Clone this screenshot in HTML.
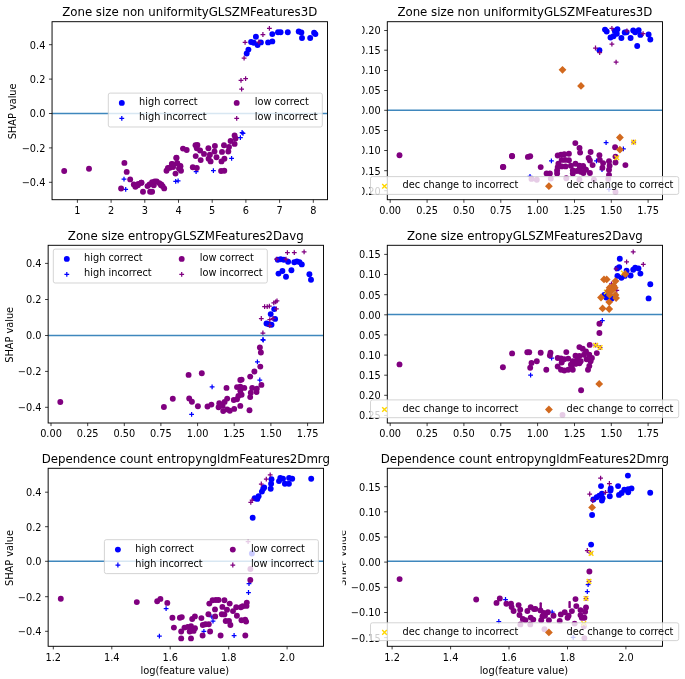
<!DOCTYPE html>
<html><head><meta charset="utf-8"><title>SHAP dependence plots</title>
<style>html,body{margin:0;padding:0;background:#fff}svg{display:block}text{font-family:"DejaVu Sans","Liberation Sans",sans-serif;fill:#000}</style>
</head><body>
<svg width="685" height="679" viewBox="0 0 685 679">
<rect width="685" height="679" fill="#fff"/>
<g id="p1">
<clipPath id="a1"><rect x="52.05" y="21.7" width="275.45" height="178.0"/></clipPath>
<g clip-path="url(#a1)">
<circle cx="246.7" cy="53.5" r="2.95" fill="#0000ff"/>
<circle cx="248.4" cy="49.6" r="2.95" fill="#0000ff"/>
<circle cx="251.1" cy="42.0" r="2.95" fill="#0000ff"/>
<circle cx="253.7" cy="42.8" r="2.95" fill="#0000ff"/>
<circle cx="255.9" cy="36.7" r="2.95" fill="#0000ff"/>
<circle cx="257.6" cy="45.0" r="2.95" fill="#0000ff"/>
<circle cx="260.9" cy="42.4" r="2.95" fill="#0000ff"/>
<circle cx="268.1" cy="42.4" r="2.95" fill="#0000ff"/>
<circle cx="272.3" cy="41.4" r="2.95" fill="#0000ff"/>
<circle cx="272.3" cy="34.1" r="2.95" fill="#0000ff"/>
<circle cx="278.0" cy="32.2" r="2.95" fill="#0000ff"/>
<circle cx="280.6" cy="32.2" r="2.95" fill="#0000ff"/>
<circle cx="287.8" cy="32.2" r="2.95" fill="#0000ff"/>
<circle cx="298.7" cy="31.5" r="2.95" fill="#0000ff"/>
<circle cx="301.4" cy="32.5" r="2.95" fill="#0000ff"/>
<circle cx="302.0" cy="38.0" r="2.95" fill="#0000ff"/>
<circle cx="310.2" cy="38.0" r="2.95" fill="#0000ff"/>
<circle cx="314.1" cy="32.8" r="2.95" fill="#0000ff"/>
<circle cx="315.4" cy="34.1" r="2.95" fill="#0000ff"/>
<path d="M121.6 179.2H126.4M124.0 176.8V181.6" stroke="#0000ff" stroke-width="1.25" fill="none"/>
<path d="M123.3 189.4H128.1M125.7 187.0V191.8" stroke="#0000ff" stroke-width="1.25" fill="none"/>
<path d="M173.3 181.3H178.1M175.7 178.9V183.7" stroke="#0000ff" stroke-width="1.25" fill="none"/>
<path d="M175.7 180.9H180.5M178.1 178.5V183.3" stroke="#0000ff" stroke-width="1.25" fill="none"/>
<path d="M211.0 170.6H215.8M213.4 168.2V173.0" stroke="#0000ff" stroke-width="1.25" fill="none"/>
<path d="M193.7 171.7H198.5M196.1 169.3V174.1" stroke="#0000ff" stroke-width="1.25" fill="none"/>
<path d="M239.7 132.5H244.5M242.1 130.1V134.9" stroke="#0000ff" stroke-width="1.25" fill="none"/>
<path d="M240.6 133.3H245.4M243.0 130.9V135.7" stroke="#0000ff" stroke-width="1.25" fill="none"/>
<path d="M238.0 137.7H242.8M240.4 135.3V140.1" stroke="#0000ff" stroke-width="1.25" fill="none"/>
<path d="M229.2 158.4H234.0M231.6 156.0V160.8" stroke="#0000ff" stroke-width="1.25" fill="none"/>
<circle cx="64.2" cy="171.0" r="2.95" fill="#800080"/>
<circle cx="89.0" cy="168.7" r="2.95" fill="#800080"/>
<circle cx="124.4" cy="162.9" r="2.95" fill="#800080"/>
<circle cx="126.7" cy="171.9" r="2.95" fill="#800080"/>
<circle cx="130.2" cy="179.4" r="2.95" fill="#800080"/>
<circle cx="121.1" cy="188.5" r="2.95" fill="#800080"/>
<circle cx="133.8" cy="184.4" r="2.95" fill="#800080"/>
<circle cx="135.4" cy="186.8" r="2.95" fill="#800080"/>
<circle cx="137.8" cy="185.2" r="2.95" fill="#800080"/>
<circle cx="141.5" cy="182.8" r="2.95" fill="#800080"/>
<circle cx="143.0" cy="191.8" r="2.95" fill="#800080"/>
<circle cx="147.5" cy="186.1" r="2.95" fill="#800080"/>
<circle cx="149.5" cy="184.4" r="2.95" fill="#800080"/>
<circle cx="152.1" cy="182.2" r="2.95" fill="#800080"/>
<circle cx="154.7" cy="181.5" r="2.95" fill="#800080"/>
<circle cx="156.7" cy="181.5" r="2.95" fill="#800080"/>
<circle cx="159.3" cy="183.1" r="2.95" fill="#800080"/>
<circle cx="161.3" cy="184.4" r="2.95" fill="#800080"/>
<circle cx="162.6" cy="186.1" r="2.95" fill="#800080"/>
<circle cx="164.2" cy="188.4" r="2.95" fill="#800080"/>
<circle cx="150.1" cy="191.8" r="2.95" fill="#800080"/>
<circle cx="152.1" cy="191.8" r="2.95" fill="#800080"/>
<circle cx="138.3" cy="183.9" r="2.95" fill="#800080"/>
<circle cx="141.3" cy="182.8" r="2.95" fill="#800080"/>
<circle cx="221.1" cy="171.0" r="2.95" fill="#800080"/>
<circle cx="224.3" cy="170.8" r="2.95" fill="#800080"/>
<circle cx="183.0" cy="148.6" r="2.95" fill="#800080"/>
<circle cx="186.7" cy="150.0" r="2.95" fill="#800080"/>
<circle cx="195.5" cy="145.2" r="2.95" fill="#800080"/>
<circle cx="197.4" cy="145.0" r="2.95" fill="#800080"/>
<circle cx="196.8" cy="148.2" r="2.95" fill="#800080"/>
<circle cx="200.1" cy="150.5" r="2.95" fill="#800080"/>
<circle cx="204.0" cy="153.9" r="2.95" fill="#800080"/>
<circle cx="195.7" cy="156.1" r="2.95" fill="#800080"/>
<circle cx="200.7" cy="160.1" r="2.95" fill="#800080"/>
<circle cx="208.4" cy="148.2" r="2.95" fill="#800080"/>
<circle cx="209.9" cy="154.8" r="2.95" fill="#800080"/>
<circle cx="208.6" cy="158.8" r="2.95" fill="#800080"/>
<circle cx="210.6" cy="161.4" r="2.95" fill="#800080"/>
<circle cx="214.9" cy="146.0" r="2.95" fill="#800080"/>
<circle cx="214.5" cy="151.5" r="2.95" fill="#800080"/>
<circle cx="216.5" cy="157.2" r="2.95" fill="#800080"/>
<circle cx="224.0" cy="145.2" r="2.95" fill="#800080"/>
<circle cx="222.0" cy="151.9" r="2.95" fill="#800080"/>
<circle cx="224.4" cy="158.8" r="2.95" fill="#800080"/>
<circle cx="221.5" cy="161.4" r="2.95" fill="#800080"/>
<circle cx="230.6" cy="141.0" r="2.95" fill="#800080"/>
<circle cx="229.0" cy="146.9" r="2.95" fill="#800080"/>
<circle cx="228.3" cy="151.5" r="2.95" fill="#800080"/>
<circle cx="234.6" cy="135.5" r="2.95" fill="#800080"/>
<circle cx="235.5" cy="138.4" r="2.95" fill="#800080"/>
<circle cx="234.6" cy="143.9" r="2.95" fill="#800080"/>
<circle cx="176.4" cy="157.8" r="2.95" fill="#800080"/>
<circle cx="171.8" cy="164.0" r="2.95" fill="#800080"/>
<circle cx="177.1" cy="163.4" r="2.95" fill="#800080"/>
<circle cx="167.9" cy="168.0" r="2.95" fill="#800080"/>
<circle cx="180.4" cy="166.0" r="2.95" fill="#800080"/>
<circle cx="192.8" cy="167.3" r="2.95" fill="#800080"/>
<circle cx="196.8" cy="168.0" r="2.95" fill="#800080"/>
<circle cx="176.4" cy="157.9" r="2.95" fill="#800080"/>
<circle cx="177.3" cy="163.1" r="2.95" fill="#800080"/>
<circle cx="172.4" cy="164.2" r="2.95" fill="#800080"/>
<circle cx="180.3" cy="166.4" r="2.95" fill="#800080"/>
<circle cx="169.8" cy="167.7" r="2.95" fill="#800080"/>
<circle cx="166.5" cy="170.8" r="2.95" fill="#800080"/>
<circle cx="181.0" cy="170.8" r="2.95" fill="#800080"/>
<circle cx="175.5" cy="173.6" r="2.95" fill="#800080"/>
<circle cx="173.1" cy="167.1" r="2.95" fill="#800080"/>
<circle cx="179.0" cy="168.4" r="2.95" fill="#800080"/>
<circle cx="153.8" cy="185.3" r="2.95" fill="#800080"/>
<circle cx="161.0" cy="185.3" r="2.95" fill="#800080"/>
<path d="M241.7 58.1H246.5M244.1 55.7V60.5" stroke="#800080" stroke-width="1.25" fill="none"/>
<path d="M242.7 42.4H247.5M245.1 40.0V44.8" stroke="#800080" stroke-width="1.25" fill="none"/>
<path d="M256.5 42.0H261.3M258.9 39.6V44.4" stroke="#800080" stroke-width="1.25" fill="none"/>
<path d="M260.5 34.5H265.3M262.9 32.1V36.9" stroke="#800080" stroke-width="1.25" fill="none"/>
<path d="M267.0 28.3H271.8M269.4 25.9V30.7" stroke="#800080" stroke-width="1.25" fill="none"/>
<path d="M238.6 80.4H243.4M241.0 78.0V82.8" stroke="#800080" stroke-width="1.25" fill="none"/>
<path d="M243.2 78.6H248.0M245.6 76.2V81.0" stroke="#800080" stroke-width="1.25" fill="none"/>
<path d="M239.2 89.2H244.0M241.6 86.8V91.6" stroke="#800080" stroke-width="1.25" fill="none"/>
<path d="M52.05 113.5H327.5" stroke="#3f87bd" stroke-width="1.5" fill="none"/>
</g>
<rect x="52.05" y="21.7" width="275.45" height="178.0" fill="none" stroke="#000" stroke-width="0.95"/>
<path d="M77.4 199.7v3.1M111.1 199.7v3.1M144.8 199.7v3.1M178.5 199.7v3.1M212.2 199.7v3.1M245.9 199.7v3.1M279.6 199.7v3.1M313.3 199.7v3.1M52.05 44.7h-3.1M52.05 79.1h-3.1M52.05 113.5h-3.1M52.05 147.9h-3.1M52.05 182.3h-3.1" stroke="#000" stroke-width="0.75" fill="none"/>
<text x="77.4" y="213.9" text-anchor="middle" font-size="9.77">1</text>
<text x="111.1" y="213.9" text-anchor="middle" font-size="9.77">2</text>
<text x="144.8" y="213.9" text-anchor="middle" font-size="9.77">3</text>
<text x="178.5" y="213.9" text-anchor="middle" font-size="9.77">4</text>
<text x="212.2" y="213.9" text-anchor="middle" font-size="9.77">5</text>
<text x="245.9" y="213.9" text-anchor="middle" font-size="9.77">6</text>
<text x="279.6" y="213.9" text-anchor="middle" font-size="9.77">7</text>
<text x="313.3" y="213.9" text-anchor="middle" font-size="9.77">8</text>
<text x="45.4" y="48.6" text-anchor="end" font-size="9.77">0.4</text>
<text x="45.4" y="83.0" text-anchor="end" font-size="9.77">0.2</text>
<text x="45.4" y="117.4" text-anchor="end" font-size="9.77">0.0</text>
<text x="45.4" y="151.8" text-anchor="end" font-size="9.77">−0.2</text>
<text x="45.4" y="186.2" text-anchor="end" font-size="9.77">−0.4</text>
<text x="189.7" y="16.1" text-anchor="middle" font-size="11.78">Zone size non uniformityGLSZMFeatures3D</text>
<text transform="translate(15.5,111.39999999999999) rotate(-90)" text-anchor="middle" font-size="9.77">SHAP value</text>
<rect x="108.3" y="93.1" width="214.0" height="33.9" rx="1.9" fill="#fff" fill-opacity="0.8" stroke="#ccc" stroke-width="0.85"/><circle cx="121.8" cy="102.9" r="2.95" fill="#0000ff"/><path d="M119.4 118.4H124.2M121.8 116.0V120.8" stroke="#0000ff" stroke-width="1.25" fill="none"/><circle cx="236.7" cy="102.9" r="2.95" fill="#800080"/><path d="M234.3 118.4H239.1M236.7 116.0V120.8" stroke="#800080" stroke-width="1.25" fill="none"/><text x="139.1" y="104.9" font-size="9.77">high correct</text><text x="139.1" y="120.1" font-size="9.77">high incorrect</text><text x="254.8" y="104.9" font-size="9.77">low correct</text><text x="254.8" y="120.1" font-size="9.77">low incorrect</text>
</g>
<g id="p2">
<clipPath id="c2"><rect x="362.1" y="-0.3000000000000007" width="322.9" height="238.0"/></clipPath>
<g clip-path="url(#c2)">
<clipPath id="a2"><rect x="387.3" y="21.7" width="275.2" height="178.0"/></clipPath>
<g clip-path="url(#a2)">
<circle cx="605.0" cy="29.6" r="2.95" fill="#0000ff"/>
<circle cx="606.7" cy="31.5" r="2.95" fill="#0000ff"/>
<circle cx="614.8" cy="30.9" r="2.95" fill="#0000ff"/>
<circle cx="617.4" cy="29.2" r="2.95" fill="#0000ff"/>
<circle cx="616.8" cy="33.8" r="2.95" fill="#0000ff"/>
<circle cx="613.5" cy="36.2" r="2.95" fill="#0000ff"/>
<circle cx="610.5" cy="37.5" r="2.95" fill="#0000ff"/>
<circle cx="621.4" cy="38.0" r="2.95" fill="#0000ff"/>
<circle cx="624.7" cy="32.5" r="2.95" fill="#0000ff"/>
<circle cx="626.6" cy="32.2" r="2.95" fill="#0000ff"/>
<circle cx="630.6" cy="38.0" r="2.95" fill="#0000ff"/>
<circle cx="633.2" cy="30.5" r="2.95" fill="#0000ff"/>
<circle cx="635.2" cy="32.2" r="2.95" fill="#0000ff"/>
<circle cx="638.7" cy="30.1" r="2.95" fill="#0000ff"/>
<circle cx="640.4" cy="34.9" r="2.95" fill="#0000ff"/>
<circle cx="637.2" cy="46.0" r="2.95" fill="#0000ff"/>
<circle cx="648.6" cy="34.5" r="2.95" fill="#0000ff"/>
<circle cx="650.3" cy="39.5" r="2.95" fill="#0000ff"/>
<circle cx="599.4" cy="50.2" r="2.95" fill="#0000ff"/>
<path d="M549.0 160.8H553.8M551.4 158.4V163.2" stroke="#0000ff" stroke-width="1.25" fill="none"/>
<path d="M594.1 160.8H598.9M596.5 158.4V163.2" stroke="#0000ff" stroke-width="1.25" fill="none"/>
<path d="M599.6 169.7H604.4M602.0 167.3V172.1" stroke="#0000ff" stroke-width="1.25" fill="none"/>
<path d="M606.6 189.4H611.4M609.0 187.0V191.8" stroke="#0000ff" stroke-width="1.25" fill="none"/>
<path d="M603.7 142.7H608.5M606.1 140.3V145.1" stroke="#0000ff" stroke-width="1.25" fill="none"/>
<path d="M621.0 148.9H625.8M623.4 146.5V151.3" stroke="#0000ff" stroke-width="1.25" fill="none"/>
<path d="M527.6 176.3H532.4M530.0 173.9V178.7" stroke="#0000ff" stroke-width="1.25" fill="none"/>
<circle cx="540.7" cy="167.1" r="2.95" fill="#800080"/>
<circle cx="546.6" cy="173.4" r="2.95" fill="#800080"/>
<circle cx="549.9" cy="173.4" r="2.95" fill="#800080"/>
<circle cx="557.1" cy="173.4" r="2.95" fill="#800080"/>
<circle cx="557.7" cy="155.5" r="2.95" fill="#800080"/>
<circle cx="561.0" cy="154.6" r="2.95" fill="#800080"/>
<circle cx="564.3" cy="154.2" r="2.95" fill="#800080"/>
<circle cx="568.9" cy="153.7" r="2.95" fill="#800080"/>
<circle cx="561.7" cy="159.9" r="2.95" fill="#800080"/>
<circle cx="565.0" cy="159.9" r="2.95" fill="#800080"/>
<circle cx="568.9" cy="160.2" r="2.95" fill="#800080"/>
<circle cx="558.4" cy="163.8" r="2.95" fill="#800080"/>
<circle cx="557.7" cy="167.1" r="2.95" fill="#800080"/>
<circle cx="561.7" cy="166.4" r="2.95" fill="#800080"/>
<circle cx="565.6" cy="166.4" r="2.95" fill="#800080"/>
<circle cx="557.1" cy="170.4" r="2.95" fill="#800080"/>
<circle cx="570.9" cy="165.8" r="2.95" fill="#800080"/>
<circle cx="575.5" cy="163.8" r="2.95" fill="#800080"/>
<circle cx="579.4" cy="165.8" r="2.95" fill="#800080"/>
<circle cx="583.4" cy="167.1" r="2.95" fill="#800080"/>
<circle cx="586.0" cy="169.7" r="2.95" fill="#800080"/>
<circle cx="589.9" cy="173.0" r="2.95" fill="#800080"/>
<circle cx="572.8" cy="170.4" r="2.95" fill="#800080"/>
<circle cx="576.8" cy="171.0" r="2.95" fill="#800080"/>
<circle cx="580.7" cy="171.7" r="2.95" fill="#800080"/>
<circle cx="572.8" cy="173.6" r="2.95" fill="#800080"/>
<circle cx="583.4" cy="173.0" r="2.95" fill="#800080"/>
<circle cx="580.1" cy="152.6" r="2.95" fill="#800080"/>
<circle cx="590.6" cy="152.0" r="2.95" fill="#800080"/>
<circle cx="588.6" cy="157.9" r="2.95" fill="#800080"/>
<circle cx="589.9" cy="160.5" r="2.95" fill="#800080"/>
<circle cx="592.6" cy="165.1" r="2.95" fill="#800080"/>
<circle cx="599.4" cy="155.3" r="2.95" fill="#800080"/>
<circle cx="599.8" cy="159.9" r="2.95" fill="#800080"/>
<circle cx="603.1" cy="163.1" r="2.95" fill="#800080"/>
<circle cx="602.4" cy="167.7" r="2.95" fill="#800080"/>
<circle cx="609.0" cy="161.2" r="2.95" fill="#800080"/>
<circle cx="609.6" cy="165.8" r="2.95" fill="#800080"/>
<circle cx="609.0" cy="169.7" r="2.95" fill="#800080"/>
<circle cx="609.0" cy="175.0" r="2.95" fill="#800080"/>
<circle cx="615.5" cy="156.6" r="2.95" fill="#800080"/>
<circle cx="615.5" cy="162.5" r="2.95" fill="#800080"/>
<circle cx="625.4" cy="165.1" r="2.95" fill="#800080"/>
<circle cx="550.8" cy="178.6" r="2.95" fill="#800080"/>
<circle cx="566.3" cy="178.2" r="2.95" fill="#800080"/>
<circle cx="579.4" cy="179.6" r="2.95" fill="#800080"/>
<circle cx="593.9" cy="179.6" r="2.95" fill="#800080"/>
<circle cx="608.3" cy="178.9" r="2.95" fill="#800080"/>
<circle cx="615.5" cy="192.0" r="2.95" fill="#800080"/>
<circle cx="502.9" cy="167.0" r="2.95" fill="#800080"/>
<circle cx="512.1" cy="156.3" r="2.95" fill="#800080"/>
<circle cx="527.9" cy="156.9" r="2.95" fill="#800080"/>
<circle cx="530.2" cy="156.3" r="2.95" fill="#800080"/>
<circle cx="575.3" cy="143.1" r="2.95" fill="#800080"/>
<circle cx="579.5" cy="148.0" r="2.95" fill="#800080"/>
<circle cx="615.1" cy="147.3" r="2.95" fill="#800080"/>
<circle cx="399.5" cy="155.2" r="2.95" fill="#800080"/>
<circle cx="503.3" cy="167.0" r="2.95" fill="#800080"/>
<circle cx="512.0" cy="156.0" r="2.95" fill="#800080"/>
<circle cx="531.5" cy="178.9" r="2.95" fill="#800080"/>
<circle cx="536.8" cy="179.7" r="2.95" fill="#800080"/>
<circle cx="579.4" cy="169.6" r="2.95" fill="#800080"/>
<circle cx="583.1" cy="165.9" r="2.95" fill="#800080"/>
<path d="M609.5 28.3H614.3M611.9 25.9V30.7" stroke="#800080" stroke-width="1.25" fill="none"/>
<path d="M624.5 30.9H629.3M626.9 28.5V33.3" stroke="#800080" stroke-width="1.25" fill="none"/>
<path d="M640.7 33.6H645.5M643.1 31.2V36.0" stroke="#800080" stroke-width="1.25" fill="none"/>
<path d="M609.5 44.1H614.3M611.9 41.7V46.5" stroke="#800080" stroke-width="1.25" fill="none"/>
<path d="M593.1 48.0H597.9M595.5 45.6V50.4" stroke="#800080" stroke-width="1.25" fill="none"/>
<path d="M597.3 52.6H602.1M599.7 50.2V55.0" stroke="#800080" stroke-width="1.25" fill="none"/>
<path d="M613.7 62.1H618.5M616.1 59.7V64.5" stroke="#800080" stroke-width="1.25" fill="none"/>
<path d="M631.3 142.1H636.1M633.7 139.7V144.5" stroke="#800080" stroke-width="1.25" fill="none"/>
<path d="M631.4 139.8L636.0 144.4M631.4 144.4L636.0 139.8" stroke="#ffd700" stroke-width="1.4" fill="none"/>
<path d="M614.5 155.5L619.1 160.1M614.5 160.1L619.1 155.5" stroke="#ffd700" stroke-width="1.4" fill="none"/>
<path d="M562.5 65.9L566.4 69.8L562.5 73.7L558.6 69.8Z" fill="#d2691e"/>
<path d="M581.0 82.0L584.9 85.9L581.0 89.8L577.1 85.9Z" fill="#d2691e"/>
<path d="M619.9 133.6L623.8 137.5L619.9 141.4L616.0 137.5Z" fill="#d2691e"/>
<path d="M619.9 145.8L623.8 149.7L619.9 153.6L616.0 149.7Z" fill="#d2691e"/>
<path d="M387.3 110.3H662.5" stroke="#3f87bd" stroke-width="1.5" fill="none"/>
</g>
<rect x="387.3" y="21.7" width="275.2" height="178.0" fill="none" stroke="#000" stroke-width="0.95"/>
<path d="M390.2 199.7v3.1M427.1 199.7v3.1M463.9 199.7v3.1M500.8 199.7v3.1M537.6 199.7v3.1M574.5 199.7v3.1M611.3 199.7v3.1M648.1 199.7v3.1M387.3 30.5h-3.1M387.3 50.2h-3.1M387.3 70.5h-3.1M387.3 90.5h-3.1M387.3 110.3h-3.1M387.3 130.5h-3.1M387.3 150.5h-3.1M387.3 170.7h-3.1M387.3 190.7h-3.1" stroke="#000" stroke-width="0.75" fill="none"/>
<text x="390.2" y="213.9" text-anchor="middle" font-size="9.77">0.00</text>
<text x="427.1" y="213.9" text-anchor="middle" font-size="9.77">0.25</text>
<text x="463.9" y="213.9" text-anchor="middle" font-size="9.77">0.50</text>
<text x="500.8" y="213.9" text-anchor="middle" font-size="9.77">0.75</text>
<text x="537.6" y="213.9" text-anchor="middle" font-size="9.77">1.00</text>
<text x="574.5" y="213.9" text-anchor="middle" font-size="9.77">1.25</text>
<text x="611.3" y="213.9" text-anchor="middle" font-size="9.77">1.50</text>
<text x="648.1" y="213.9" text-anchor="middle" font-size="9.77">1.75</text>
<text x="380.7" y="34.4" text-anchor="end" font-size="9.77">0.20</text>
<text x="380.7" y="54.1" text-anchor="end" font-size="9.77">0.15</text>
<text x="380.7" y="74.4" text-anchor="end" font-size="9.77">0.10</text>
<text x="380.7" y="94.4" text-anchor="end" font-size="9.77">0.05</text>
<text x="380.7" y="114.2" text-anchor="end" font-size="9.77">0.00</text>
<text x="380.7" y="134.4" text-anchor="end" font-size="9.77">−0.05</text>
<text x="380.7" y="154.4" text-anchor="end" font-size="9.77">−0.10</text>
<text x="380.7" y="174.6" text-anchor="end" font-size="9.77">−0.15</text>
<text x="380.7" y="194.6" text-anchor="end" font-size="9.77">−0.20</text>
<text x="524.9" y="16.1" text-anchor="middle" font-size="11.78">Zone size non uniformityGLSZMFeatures3D</text>
<rect x="370.5" y="176.6" width="308.2" height="17.8" rx="1.9" fill="#fff" fill-opacity="0.8" stroke="#ccc" stroke-width="0.85"/><path d="M382.2 183.9L386.8 188.5M382.2 188.5L386.8 183.9" stroke="#ffd700" stroke-width="1.4" fill="none"/><path d="M548.9 182.3L552.8 186.2L548.9 190.1L545.0 186.2Z" fill="#d2691e"/><text x="402.5" y="188.3" font-size="9.77">dec change to incorrect</text><text x="566.5" y="188.3" font-size="9.77">dec change to correct</text>
</g>
</g>
<g id="p3">
<clipPath id="a3"><rect x="48.15" y="245.3" width="275.35" height="177.7"/></clipPath>
<g clip-path="url(#a3)">
<circle cx="277.8" cy="259.7" r="2.95" fill="#0000ff"/>
<circle cx="280.7" cy="259.2" r="2.95" fill="#0000ff"/>
<circle cx="283.8" cy="259.7" r="2.95" fill="#0000ff"/>
<circle cx="288.1" cy="261.8" r="2.95" fill="#0000ff"/>
<circle cx="294.3" cy="262.3" r="2.95" fill="#0000ff"/>
<circle cx="296.9" cy="261.4" r="2.95" fill="#0000ff"/>
<circle cx="299.5" cy="262.1" r="2.95" fill="#0000ff"/>
<circle cx="301.8" cy="264.4" r="2.95" fill="#0000ff"/>
<circle cx="278.5" cy="273.6" r="2.95" fill="#0000ff"/>
<circle cx="282.4" cy="271.0" r="2.95" fill="#0000ff"/>
<circle cx="286.0" cy="276.8" r="2.95" fill="#0000ff"/>
<circle cx="291.4" cy="270.2" r="2.95" fill="#0000ff"/>
<circle cx="309.4" cy="274.2" r="2.95" fill="#0000ff"/>
<circle cx="311.0" cy="279.8" r="2.95" fill="#0000ff"/>
<circle cx="274.2" cy="309.1" r="2.95" fill="#0000ff"/>
<circle cx="270.7" cy="314.1" r="2.95" fill="#0000ff"/>
<circle cx="275.1" cy="318.9" r="2.95" fill="#0000ff"/>
<circle cx="266.5" cy="323.5" r="2.95" fill="#0000ff"/>
<circle cx="268.9" cy="324.2" r="2.95" fill="#0000ff"/>
<circle cx="271.5" cy="324.8" r="2.95" fill="#0000ff"/>
<path d="M260.5 339.6H265.3M262.9 337.2V342.0" stroke="#0000ff" stroke-width="1.25" fill="none"/>
<path d="M260.8 340.0H265.6M263.2 337.6V342.4" stroke="#0000ff" stroke-width="1.25" fill="none"/>
<path d="M255.0 361.9H259.8M257.4 359.5V364.3" stroke="#0000ff" stroke-width="1.25" fill="none"/>
<path d="M209.7 386.8H214.5M212.1 384.4V389.2" stroke="#0000ff" stroke-width="1.25" fill="none"/>
<path d="M257.4 380.0H262.2M259.8 377.6V382.4" stroke="#0000ff" stroke-width="1.25" fill="none"/>
<path d="M189.2 414.3H194.0M191.6 411.9V416.7" stroke="#0000ff" stroke-width="1.25" fill="none"/>
<circle cx="201.8" cy="373.2" r="2.95" fill="#800080"/>
<circle cx="259.9" cy="347.5" r="2.95" fill="#800080"/>
<circle cx="260.9" cy="352.5" r="2.95" fill="#800080"/>
<circle cx="260.3" cy="366.6" r="2.95" fill="#800080"/>
<circle cx="254.4" cy="371.5" r="2.95" fill="#800080"/>
<circle cx="197.9" cy="406.3" r="2.95" fill="#800080"/>
<circle cx="207.5" cy="406.5" r="2.95" fill="#800080"/>
<circle cx="211.4" cy="404.6" r="2.95" fill="#800080"/>
<circle cx="226.5" cy="387.9" r="2.95" fill="#800080"/>
<circle cx="241.6" cy="379.6" r="2.95" fill="#800080"/>
<circle cx="240.3" cy="380.0" r="2.95" fill="#800080"/>
<circle cx="250.2" cy="376.6" r="2.95" fill="#800080"/>
<circle cx="261.4" cy="384.9" r="2.95" fill="#800080"/>
<circle cx="237.0" cy="387.1" r="2.95" fill="#800080"/>
<circle cx="240.3" cy="386.6" r="2.95" fill="#800080"/>
<circle cx="244.3" cy="387.9" r="2.95" fill="#800080"/>
<circle cx="240.3" cy="390.8" r="2.95" fill="#800080"/>
<circle cx="252.2" cy="387.9" r="2.95" fill="#800080"/>
<circle cx="256.8" cy="388.8" r="2.95" fill="#800080"/>
<circle cx="256.5" cy="392.1" r="2.95" fill="#800080"/>
<circle cx="250.8" cy="392.7" r="2.95" fill="#800080"/>
<circle cx="250.2" cy="397.1" r="2.95" fill="#800080"/>
<circle cx="241.6" cy="394.7" r="2.95" fill="#800080"/>
<circle cx="238.4" cy="396.0" r="2.95" fill="#800080"/>
<circle cx="237.0" cy="399.3" r="2.95" fill="#800080"/>
<circle cx="233.8" cy="400.0" r="2.95" fill="#800080"/>
<circle cx="227.2" cy="398.6" r="2.95" fill="#800080"/>
<circle cx="224.6" cy="401.9" r="2.95" fill="#800080"/>
<circle cx="219.3" cy="403.2" r="2.95" fill="#800080"/>
<circle cx="218.6" cy="407.2" r="2.95" fill="#800080"/>
<circle cx="222.6" cy="405.9" r="2.95" fill="#800080"/>
<circle cx="223.2" cy="411.1" r="2.95" fill="#800080"/>
<circle cx="227.2" cy="409.4" r="2.95" fill="#800080"/>
<circle cx="229.8" cy="410.7" r="2.95" fill="#800080"/>
<circle cx="234.2" cy="408.9" r="2.95" fill="#800080"/>
<circle cx="240.3" cy="405.9" r="2.95" fill="#800080"/>
<circle cx="249.5" cy="410.2" r="2.95" fill="#800080"/>
<circle cx="188.6" cy="374.9" r="2.95" fill="#800080"/>
<circle cx="172.8" cy="398.8" r="2.95" fill="#800080"/>
<circle cx="163.9" cy="407.0" r="2.95" fill="#800080"/>
<circle cx="189.2" cy="398.5" r="2.95" fill="#800080"/>
<circle cx="191.9" cy="401.8" r="2.95" fill="#800080"/>
<circle cx="60.3" cy="402.0" r="2.95" fill="#800080"/>
<path d="M285.0 252.6H289.8M287.4 250.2V255.0" stroke="#800080" stroke-width="1.25" fill="none"/>
<path d="M291.9 252.6H296.7M294.3 250.2V255.0" stroke="#800080" stroke-width="1.25" fill="none"/>
<path d="M301.7 251.8H306.5M304.1 249.4V254.2" stroke="#800080" stroke-width="1.25" fill="none"/>
<path d="M274.1 259.2H278.9M276.5 256.8V261.6" stroke="#800080" stroke-width="1.25" fill="none"/>
<path d="M283.6 259.2H288.4M286.0 256.8V261.6" stroke="#800080" stroke-width="1.25" fill="none"/>
<path d="M274.6 300.9H279.4M277.0 298.5V303.3" stroke="#800080" stroke-width="1.25" fill="none"/>
<path d="M273.3 301.9H278.1M275.7 299.5V304.3" stroke="#800080" stroke-width="1.25" fill="none"/>
<path d="M271.4 302.8H276.2M273.8 300.4V305.2" stroke="#800080" stroke-width="1.25" fill="none"/>
<path d="M262.2 306.7H267.0M264.6 304.3V309.1" stroke="#800080" stroke-width="1.25" fill="none"/>
<path d="M264.8 306.7H269.6M267.2 304.3V309.1" stroke="#800080" stroke-width="1.25" fill="none"/>
<path d="M267.0 306.2H271.8M269.4 303.8V308.6" stroke="#800080" stroke-width="1.25" fill="none"/>
<path d="M274.0 308.8H278.8M276.4 306.4V311.2" stroke="#800080" stroke-width="1.25" fill="none"/>
<path d="M258.9 318.5H263.7M261.3 316.1V320.9" stroke="#800080" stroke-width="1.25" fill="none"/>
<path d="M267.4 319.6H272.2M269.8 317.2V322.0" stroke="#800080" stroke-width="1.25" fill="none"/>
<path d="M270.7 318.3H275.5M273.1 315.9V320.7" stroke="#800080" stroke-width="1.25" fill="none"/>
<path d="M267.4 325.5H272.2M269.8 323.1V327.9" stroke="#800080" stroke-width="1.25" fill="none"/>
<path d="M260.5 333.0H265.3M262.9 330.6V335.4" stroke="#800080" stroke-width="1.25" fill="none"/>
<path d="M48.15 335.5H323.5" stroke="#3f87bd" stroke-width="1.5" fill="none"/>
</g>
<rect x="48.15" y="245.3" width="275.35" height="177.7" fill="none" stroke="#000" stroke-width="0.95"/>
<path d="M51.0 423.0v3.1M87.7 423.0v3.1M124.3 423.0v3.1M160.9 423.0v3.1M197.6 423.0v3.1M234.2 423.0v3.1M270.9 423.0v3.1M307.6 423.0v3.1M48.15 263.4h-3.1M48.15 299.5h-3.1M48.15 335.5h-3.1M48.15 371.4h-3.1M48.15 407.3h-3.1" stroke="#000" stroke-width="0.75" fill="none"/>
<text x="51.0" y="437.2" text-anchor="middle" font-size="9.77">0.00</text>
<text x="87.7" y="437.2" text-anchor="middle" font-size="9.77">0.25</text>
<text x="124.3" y="437.2" text-anchor="middle" font-size="9.77">0.50</text>
<text x="160.9" y="437.2" text-anchor="middle" font-size="9.77">0.75</text>
<text x="197.6" y="437.2" text-anchor="middle" font-size="9.77">1.00</text>
<text x="234.2" y="437.2" text-anchor="middle" font-size="9.77">1.25</text>
<text x="270.9" y="437.2" text-anchor="middle" font-size="9.77">1.50</text>
<text x="307.6" y="437.2" text-anchor="middle" font-size="9.77">1.75</text>
<text x="41.5" y="267.3" text-anchor="end" font-size="9.77">0.4</text>
<text x="41.5" y="303.4" text-anchor="end" font-size="9.77">0.2</text>
<text x="41.5" y="339.4" text-anchor="end" font-size="9.77">0.0</text>
<text x="41.5" y="375.3" text-anchor="end" font-size="9.77">−0.2</text>
<text x="41.5" y="411.2" text-anchor="end" font-size="9.77">−0.4</text>
<text x="185.8" y="239.6" text-anchor="middle" font-size="11.78">Zone size entropyGLSZMFeatures2Davg</text>
<text transform="translate(12.6,334.84999999999997) rotate(-90)" text-anchor="middle" font-size="9.77">SHAP value</text>
<rect x="53.3" y="249.1" width="214.0" height="33.9" rx="1.9" fill="#fff" fill-opacity="0.8" stroke="#ccc" stroke-width="0.85"/><circle cx="66.8" cy="258.9" r="2.95" fill="#0000ff"/><path d="M64.4 274.4H69.2M66.8 272.0V276.8" stroke="#0000ff" stroke-width="1.25" fill="none"/><circle cx="181.7" cy="258.9" r="2.95" fill="#800080"/><path d="M179.3 274.4H184.1M181.7 272.0V276.8" stroke="#800080" stroke-width="1.25" fill="none"/><text x="84.1" y="260.9" font-size="9.77">high correct</text><text x="84.1" y="276.1" font-size="9.77">high incorrect</text><text x="199.8" y="260.9" font-size="9.77">low correct</text><text x="199.8" y="276.1" font-size="9.77">low incorrect</text>
</g>
<g id="p4">
<clipPath id="c4"><rect x="359.2" y="223.3" width="325.8" height="237.7"/></clipPath>
<g clip-path="url(#c4)">
<clipPath id="a4"><rect x="387.3" y="245.3" width="275.2" height="177.7"/></clipPath>
<g clip-path="url(#a4)">
<circle cx="619.8" cy="258.8" r="2.95" fill="#0000ff"/>
<circle cx="619.2" cy="267.1" r="2.95" fill="#0000ff"/>
<circle cx="617.2" cy="268.4" r="2.95" fill="#0000ff"/>
<circle cx="617.4" cy="275.9" r="2.95" fill="#0000ff"/>
<circle cx="621.4" cy="277.8" r="2.95" fill="#0000ff"/>
<circle cx="626.6" cy="270.6" r="2.95" fill="#0000ff"/>
<circle cx="630.6" cy="275.5" r="2.95" fill="#0000ff"/>
<circle cx="633.2" cy="269.7" r="2.95" fill="#0000ff"/>
<circle cx="635.2" cy="267.6" r="2.95" fill="#0000ff"/>
<circle cx="638.5" cy="268.4" r="2.95" fill="#0000ff"/>
<circle cx="640.4" cy="273.6" r="2.95" fill="#0000ff"/>
<circle cx="650.3" cy="284.2" r="2.95" fill="#0000ff"/>
<circle cx="624.7" cy="275.9" r="2.95" fill="#0000ff"/>
<circle cx="648.6" cy="298.4" r="2.95" fill="#0000ff"/>
<circle cx="604.3" cy="294.9" r="2.95" fill="#0000ff"/>
<circle cx="606.3" cy="297.5" r="2.95" fill="#0000ff"/>
<circle cx="611.5" cy="298.8" r="2.95" fill="#0000ff"/>
<path d="M599.9 320.5H604.7M602.3 318.1V322.9" stroke="#0000ff" stroke-width="1.25" fill="none"/>
<path d="M528.2 375.1H533.0M530.6 372.7V377.5" stroke="#0000ff" stroke-width="1.25" fill="none"/>
<path d="M549.2 358.0H554.0M551.6 355.6V360.4" stroke="#0000ff" stroke-width="1.25" fill="none"/>
<circle cx="599.4" cy="323.8" r="2.95" fill="#800080"/>
<circle cx="599.4" cy="333.0" r="2.95" fill="#800080"/>
<circle cx="502.9" cy="367.2" r="2.95" fill="#800080"/>
<circle cx="512.1" cy="353.4" r="2.95" fill="#800080"/>
<circle cx="527.3" cy="352.3" r="2.95" fill="#800080"/>
<circle cx="529.2" cy="352.3" r="2.95" fill="#800080"/>
<circle cx="531.5" cy="362.9" r="2.95" fill="#800080"/>
<circle cx="536.8" cy="361.3" r="2.95" fill="#800080"/>
<circle cx="530.2" cy="367.8" r="2.95" fill="#800080"/>
<circle cx="579.4" cy="347.1" r="2.95" fill="#800080"/>
<circle cx="582.7" cy="348.8" r="2.95" fill="#800080"/>
<circle cx="589.7" cy="344.9" r="2.95" fill="#800080"/>
<circle cx="586.0" cy="351.4" r="2.95" fill="#800080"/>
<circle cx="596.8" cy="353.1" r="2.95" fill="#800080"/>
<circle cx="566.3" cy="352.1" r="2.95" fill="#800080"/>
<circle cx="575.5" cy="355.8" r="2.95" fill="#800080"/>
<circle cx="579.4" cy="356.0" r="2.95" fill="#800080"/>
<circle cx="584.0" cy="354.7" r="2.95" fill="#800080"/>
<circle cx="589.3" cy="354.7" r="2.95" fill="#800080"/>
<circle cx="591.9" cy="358.0" r="2.95" fill="#800080"/>
<circle cx="557.7" cy="358.0" r="2.95" fill="#800080"/>
<circle cx="561.0" cy="358.4" r="2.95" fill="#800080"/>
<circle cx="564.3" cy="359.3" r="2.95" fill="#800080"/>
<circle cx="568.2" cy="358.6" r="2.95" fill="#800080"/>
<circle cx="572.8" cy="361.3" r="2.95" fill="#800080"/>
<circle cx="577.4" cy="359.3" r="2.95" fill="#800080"/>
<circle cx="580.7" cy="361.3" r="2.95" fill="#800080"/>
<circle cx="586.6" cy="359.3" r="2.95" fill="#800080"/>
<circle cx="590.6" cy="361.3" r="2.95" fill="#800080"/>
<circle cx="561.7" cy="362.6" r="2.95" fill="#800080"/>
<circle cx="570.9" cy="364.6" r="2.95" fill="#800080"/>
<circle cx="575.5" cy="363.9" r="2.95" fill="#800080"/>
<circle cx="579.4" cy="363.2" r="2.95" fill="#800080"/>
<circle cx="589.3" cy="365.9" r="2.95" fill="#800080"/>
<circle cx="557.7" cy="366.5" r="2.95" fill="#800080"/>
<circle cx="561.0" cy="369.8" r="2.95" fill="#800080"/>
<circle cx="564.3" cy="370.5" r="2.95" fill="#800080"/>
<circle cx="568.2" cy="369.8" r="2.95" fill="#800080"/>
<circle cx="572.8" cy="369.8" r="2.95" fill="#800080"/>
<circle cx="571.5" cy="367.2" r="2.95" fill="#800080"/>
<circle cx="588.0" cy="369.8" r="2.95" fill="#800080"/>
<circle cx="550.5" cy="352.7" r="2.95" fill="#800080"/>
<circle cx="549.9" cy="355.4" r="2.95" fill="#800080"/>
<circle cx="540.7" cy="352.7" r="2.95" fill="#800080"/>
<circle cx="546.3" cy="369.8" r="2.95" fill="#800080"/>
<circle cx="581.1" cy="390.3" r="2.95" fill="#800080"/>
<circle cx="562.5" cy="414.9" r="2.95" fill="#800080"/>
<circle cx="399.5" cy="364.4" r="2.95" fill="#800080"/>
<path d="M630.8 251.8H635.6M633.2 249.4V254.2" stroke="#800080" stroke-width="1.25" fill="none"/>
<path d="M624.2 261.8H629.0M626.6 259.4V264.2" stroke="#800080" stroke-width="1.25" fill="none"/>
<path d="M640.9 264.4H645.7M643.3 262.0V266.8" stroke="#800080" stroke-width="1.25" fill="none"/>
<path d="M613.7 268.9H618.5M616.1 266.5V271.3" stroke="#800080" stroke-width="1.25" fill="none"/>
<path d="M609.1 283.8H613.9M611.5 281.4V286.2" stroke="#800080" stroke-width="1.25" fill="none"/>
<path d="M614.4 290.3H619.2M616.8 287.9V292.7" stroke="#800080" stroke-width="1.25" fill="none"/>
<path d="M593.3 345.2H598.1M595.7 342.8V347.6" stroke="#800080" stroke-width="1.25" fill="none"/>
<path d="M597.7 347.5H602.5M600.1 345.1V349.9" stroke="#800080" stroke-width="1.25" fill="none"/>
<path d="M621.1 270.7L625.7 275.3M621.1 275.3L625.7 270.7" stroke="#ffd700" stroke-width="1.4" fill="none"/>
<path d="M604.0 289.7L608.6 294.3M604.0 294.3L608.6 289.7" stroke="#ffd700" stroke-width="1.4" fill="none"/>
<path d="M593.4 342.9L598.0 347.5M593.4 347.5L598.0 342.9" stroke="#ffd700" stroke-width="1.4" fill="none"/>
<path d="M597.8 345.2L602.4 349.8M597.8 349.8L602.4 345.2" stroke="#ffd700" stroke-width="1.4" fill="none"/>
<path d="M625.3 270.3L629.2 274.2L625.3 278.1L621.4 274.2Z" fill="#d2691e"/>
<path d="M604.0 275.5L607.9 279.4L604.0 283.3L600.1 279.4Z" fill="#d2691e"/>
<path d="M606.7 275.5L610.6 279.4L606.7 283.3L602.8 279.4Z" fill="#d2691e"/>
<path d="M615.5 277.2L619.4 281.1L615.5 285.0L611.6 281.1Z" fill="#d2691e"/>
<path d="M613.5 281.8L617.4 285.7L613.5 289.6L609.6 285.7Z" fill="#d2691e"/>
<path d="M609.6 283.8L613.5 287.7L609.6 291.6L605.7 287.7Z" fill="#d2691e"/>
<path d="M614.8 283.8L618.7 287.7L614.8 291.6L610.9 287.7Z" fill="#d2691e"/>
<path d="M608.2 287.1L612.1 291.0L608.2 294.9L604.3 291.0Z" fill="#d2691e"/>
<path d="M601.0 293.6L604.9 297.5L601.0 301.4L597.1 297.5Z" fill="#d2691e"/>
<path d="M609.6 291.0L613.5 294.9L609.6 298.8L605.7 294.9Z" fill="#d2691e"/>
<path d="M615.5 291.0L619.4 294.9L615.5 298.8L611.6 294.9Z" fill="#d2691e"/>
<path d="M616.1 294.2L620.0 298.1L616.1 302.0L612.2 298.1Z" fill="#d2691e"/>
<path d="M609.2 298.2L613.1 302.1L609.2 306.0L605.3 302.1Z" fill="#d2691e"/>
<path d="M602.6 304.5L606.5 308.4L602.6 312.3L598.7 308.4Z" fill="#d2691e"/>
<path d="M609.2 305.1L613.1 309.0L609.2 312.9L605.3 309.0Z" fill="#d2691e"/>
<path d="M599.2 380.0L603.1 383.9L599.2 387.8L595.3 383.9Z" fill="#d2691e"/>
<path d="M611.8 286.8L615.7 290.7L611.8 294.6L607.9 290.7Z" fill="#d2691e"/>
<path d="M387.3 314.6H662.5" stroke="#3f87bd" stroke-width="1.5" fill="none"/>
</g>
<rect x="387.3" y="245.3" width="275.2" height="177.7" fill="none" stroke="#000" stroke-width="0.95"/>
<path d="M390.2 423.0v3.1M427.1 423.0v3.1M463.9 423.0v3.1M500.8 423.0v3.1M537.6 423.0v3.1M574.5 423.0v3.1M611.3 423.0v3.1M648.1 423.0v3.1M387.3 254.4h-3.1M387.3 274.5h-3.1M387.3 294.7h-3.1M387.3 314.8h-3.1M387.3 334.9h-3.1M387.3 355.1h-3.1M387.3 375.2h-3.1M387.3 395.3h-3.1M387.3 415.4h-3.1" stroke="#000" stroke-width="0.75" fill="none"/>
<text x="390.2" y="437.2" text-anchor="middle" font-size="9.77">0.00</text>
<text x="427.1" y="437.2" text-anchor="middle" font-size="9.77">0.25</text>
<text x="463.9" y="437.2" text-anchor="middle" font-size="9.77">0.50</text>
<text x="500.8" y="437.2" text-anchor="middle" font-size="9.77">0.75</text>
<text x="537.6" y="437.2" text-anchor="middle" font-size="9.77">1.00</text>
<text x="574.5" y="437.2" text-anchor="middle" font-size="9.77">1.25</text>
<text x="611.3" y="437.2" text-anchor="middle" font-size="9.77">1.50</text>
<text x="648.1" y="437.2" text-anchor="middle" font-size="9.77">1.75</text>
<text x="380.7" y="258.3" text-anchor="end" font-size="9.77">0.15</text>
<text x="380.7" y="278.4" text-anchor="end" font-size="9.77">0.10</text>
<text x="380.7" y="298.6" text-anchor="end" font-size="9.77">0.05</text>
<text x="380.7" y="318.7" text-anchor="end" font-size="9.77">0.00</text>
<text x="380.7" y="338.8" text-anchor="end" font-size="9.77">−0.05</text>
<text x="380.7" y="358.9" text-anchor="end" font-size="9.77">−0.10</text>
<text x="380.7" y="379.1" text-anchor="end" font-size="9.77">−0.15</text>
<text x="380.7" y="399.2" text-anchor="end" font-size="9.77">−0.20</text>
<text x="380.7" y="419.3" text-anchor="end" font-size="9.77">−0.25</text>
<text x="524.9" y="239.6" text-anchor="middle" font-size="11.78">Zone size entropyGLSZMFeatures2Davg</text>
<rect x="370.5" y="399.9" width="308.2" height="17.8" rx="1.9" fill="#fff" fill-opacity="0.8" stroke="#ccc" stroke-width="0.85"/><path d="M382.2 407.2L386.8 411.8M382.2 411.8L386.8 407.2" stroke="#ffd700" stroke-width="1.4" fill="none"/><path d="M548.9 405.6L552.8 409.5L548.9 413.4L545.0 409.5Z" fill="#d2691e"/><text x="402.5" y="411.6" font-size="9.77">dec change to incorrect</text><text x="566.5" y="411.6" font-size="9.77">dec change to correct</text>
</g>
</g>
<g id="p5">
<clipPath id="a5"><rect x="48.15" y="468.3" width="275.35" height="177.99999999999994"/></clipPath>
<g clip-path="url(#a5)">
<circle cx="252.7" cy="517.7" r="2.95" fill="#0000ff"/>
<circle cx="254.7" cy="498.2" r="2.95" fill="#0000ff"/>
<circle cx="257.3" cy="498.9" r="2.95" fill="#0000ff"/>
<circle cx="258.6" cy="496.2" r="2.95" fill="#0000ff"/>
<circle cx="261.9" cy="491.6" r="2.95" fill="#0000ff"/>
<circle cx="263.2" cy="488.8" r="2.95" fill="#0000ff"/>
<circle cx="264.2" cy="487.4" r="2.95" fill="#0000ff"/>
<circle cx="270.7" cy="488.8" r="2.95" fill="#0000ff"/>
<circle cx="271.1" cy="483.8" r="2.95" fill="#0000ff"/>
<circle cx="271.5" cy="479.2" r="2.95" fill="#0000ff"/>
<circle cx="279.0" cy="481.1" r="2.95" fill="#0000ff"/>
<circle cx="280.3" cy="477.9" r="2.95" fill="#0000ff"/>
<circle cx="283.0" cy="478.8" r="2.95" fill="#0000ff"/>
<circle cx="284.9" cy="483.8" r="2.95" fill="#0000ff"/>
<circle cx="288.9" cy="483.8" r="2.95" fill="#0000ff"/>
<circle cx="289.1" cy="477.9" r="2.95" fill="#0000ff"/>
<circle cx="292.2" cy="478.8" r="2.95" fill="#0000ff"/>
<circle cx="311.2" cy="478.8" r="2.95" fill="#0000ff"/>
<circle cx="251.9" cy="553.5" r="2.95" fill="#0000ff"/>
<path d="M246.6 583.5H251.4M249.0 581.1V585.9" stroke="#0000ff" stroke-width="1.25" fill="none"/>
<path d="M246.1 592.5H250.9M248.5 590.1V594.9" stroke="#0000ff" stroke-width="1.25" fill="none"/>
<path d="M209.5 616.8H214.3M211.9 614.4V619.2" stroke="#0000ff" stroke-width="1.25" fill="none"/>
<path d="M210.6 621.0H215.4M213.0 618.6V623.4" stroke="#0000ff" stroke-width="1.25" fill="none"/>
<path d="M201.5 631.3H206.3M203.9 628.9V633.7" stroke="#0000ff" stroke-width="1.25" fill="none"/>
<path d="M231.7 635.5H236.5M234.1 633.1V637.9" stroke="#0000ff" stroke-width="1.25" fill="none"/>
<path d="M163.7 608.7H168.5M166.1 606.3V611.1" stroke="#0000ff" stroke-width="1.25" fill="none"/>
<path d="M157.0 636.2H161.8M159.4 633.8V638.6" stroke="#0000ff" stroke-width="1.25" fill="none"/>
<circle cx="250.3" cy="580.0" r="2.95" fill="#800080"/>
<circle cx="246.8" cy="602.6" r="2.95" fill="#800080"/>
<circle cx="246.5" cy="605.9" r="2.95" fill="#800080"/>
<circle cx="242.8" cy="606.3" r="2.95" fill="#800080"/>
<circle cx="240.8" cy="607.2" r="2.95" fill="#800080"/>
<circle cx="236.2" cy="607.2" r="2.95" fill="#800080"/>
<circle cx="229.7" cy="603.6" r="2.95" fill="#800080"/>
<circle cx="224.4" cy="600.2" r="2.95" fill="#800080"/>
<circle cx="218.5" cy="600.0" r="2.95" fill="#800080"/>
<circle cx="215.9" cy="600.0" r="2.95" fill="#800080"/>
<circle cx="212.6" cy="600.2" r="2.95" fill="#800080"/>
<circle cx="209.3" cy="603.6" r="2.95" fill="#800080"/>
<circle cx="215.0" cy="609.4" r="2.95" fill="#800080"/>
<circle cx="222.4" cy="606.9" r="2.95" fill="#800080"/>
<circle cx="227.0" cy="609.8" r="2.95" fill="#800080"/>
<circle cx="233.0" cy="611.1" r="2.95" fill="#800080"/>
<circle cx="236.9" cy="615.7" r="2.95" fill="#800080"/>
<circle cx="221.8" cy="614.2" r="2.95" fill="#800080"/>
<circle cx="224.4" cy="614.4" r="2.95" fill="#800080"/>
<circle cx="215.2" cy="616.4" r="2.95" fill="#800080"/>
<circle cx="208.4" cy="614.2" r="2.95" fill="#800080"/>
<circle cx="225.7" cy="621.0" r="2.95" fill="#800080"/>
<circle cx="229.0" cy="621.0" r="2.95" fill="#800080"/>
<circle cx="241.5" cy="620.3" r="2.95" fill="#800080"/>
<circle cx="245.2" cy="619.7" r="2.95" fill="#800080"/>
<circle cx="246.1" cy="621.6" r="2.95" fill="#800080"/>
<circle cx="194.9" cy="616.4" r="2.95" fill="#800080"/>
<circle cx="192.2" cy="619.0" r="2.95" fill="#800080"/>
<circle cx="201.4" cy="618.1" r="2.95" fill="#800080"/>
<circle cx="172.4" cy="617.7" r="2.95" fill="#800080"/>
<circle cx="179.9" cy="617.7" r="2.95" fill="#800080"/>
<circle cx="181.8" cy="617.1" r="2.95" fill="#800080"/>
<circle cx="173.9" cy="627.6" r="2.95" fill="#800080"/>
<circle cx="184.5" cy="627.6" r="2.95" fill="#800080"/>
<circle cx="181.2" cy="631.5" r="2.95" fill="#800080"/>
<circle cx="181.2" cy="638.4" r="2.95" fill="#800080"/>
<circle cx="187.7" cy="626.9" r="2.95" fill="#800080"/>
<circle cx="191.0" cy="626.3" r="2.95" fill="#800080"/>
<circle cx="195.0" cy="628.2" r="2.95" fill="#800080"/>
<circle cx="189.7" cy="631.5" r="2.95" fill="#800080"/>
<circle cx="193.6" cy="630.9" r="2.95" fill="#800080"/>
<circle cx="202.8" cy="625.0" r="2.95" fill="#800080"/>
<circle cx="205.5" cy="624.3" r="2.95" fill="#800080"/>
<circle cx="208.8" cy="624.3" r="2.95" fill="#800080"/>
<circle cx="210.1" cy="631.5" r="2.95" fill="#800080"/>
<circle cx="202.6" cy="635.5" r="2.95" fill="#800080"/>
<circle cx="191.0" cy="638.4" r="2.95" fill="#800080"/>
<circle cx="220.6" cy="635.5" r="2.95" fill="#800080"/>
<circle cx="245.3" cy="635.5" r="2.95" fill="#800080"/>
<circle cx="230.4" cy="625.0" r="2.95" fill="#800080"/>
<circle cx="136.8" cy="602.1" r="2.95" fill="#800080"/>
<circle cx="157.2" cy="601.2" r="2.95" fill="#800080"/>
<circle cx="160.4" cy="598.9" r="2.95" fill="#800080"/>
<circle cx="167.3" cy="602.9" r="2.95" fill="#800080"/>
<circle cx="60.8" cy="598.7" r="2.95" fill="#800080"/>
<circle cx="250.4" cy="569.0" r="2.95" fill="#800080"/>
<path d="M248.4 502.4H253.2M250.8 500.0V504.8" stroke="#800080" stroke-width="1.25" fill="none"/>
<path d="M249.7 500.2H254.5M252.1 497.8V502.6" stroke="#800080" stroke-width="1.25" fill="none"/>
<path d="M258.9 484.0H263.7M261.3 481.6V486.4" stroke="#800080" stroke-width="1.25" fill="none"/>
<path d="M263.9 479.2H268.7M266.3 476.8V481.6" stroke="#800080" stroke-width="1.25" fill="none"/>
<path d="M267.8 474.8H272.6M270.2 472.4V477.2" stroke="#800080" stroke-width="1.25" fill="none"/>
<path d="M245.7 541.7H250.5M248.1 539.3V544.1" stroke="#800080" stroke-width="1.25" fill="none"/>
<path d="M48.15 561.3H323.5" stroke="#3f87bd" stroke-width="1.5" fill="none"/>
</g>
<rect x="48.15" y="468.3" width="275.35" height="177.99999999999994" fill="none" stroke="#000" stroke-width="0.95"/>
<path d="M53.3 646.3v3.1M111.8 646.3v3.1M170.2 646.3v3.1M228.7 646.3v3.1M287.1 646.3v3.1M48.15 492.2h-3.1M48.15 526.7h-3.1M48.15 561.3h-3.1M48.15 596.7h-3.1M48.15 631.3h-3.1" stroke="#000" stroke-width="0.75" fill="none"/>
<text x="53.3" y="660.5" text-anchor="middle" font-size="9.77">1.2</text>
<text x="111.8" y="660.5" text-anchor="middle" font-size="9.77">1.4</text>
<text x="170.2" y="660.5" text-anchor="middle" font-size="9.77">1.6</text>
<text x="228.7" y="660.5" text-anchor="middle" font-size="9.77">1.8</text>
<text x="287.1" y="660.5" text-anchor="middle" font-size="9.77">2.0</text>
<text x="41.5" y="496.1" text-anchor="end" font-size="9.77">0.4</text>
<text x="41.5" y="530.6" text-anchor="end" font-size="9.77">0.2</text>
<text x="41.5" y="565.2" text-anchor="end" font-size="9.77">0.0</text>
<text x="41.5" y="600.6" text-anchor="end" font-size="9.77">−0.2</text>
<text x="41.5" y="635.2" text-anchor="end" font-size="9.77">−0.4</text>
<text x="185.8" y="462.7" text-anchor="middle" font-size="11.78">Dependence count entropyngldmFeatures2Dmrg</text>
<text transform="translate(12.6,558.0) rotate(-90)" text-anchor="middle" font-size="9.77">SHAP value</text>
<text x="184.8" y="674.1" text-anchor="middle" font-size="9.9">log(feature value)</text>
<rect x="104.4" y="539.7" width="214.0" height="33.9" rx="1.9" fill="#fff" fill-opacity="0.8" stroke="#ccc" stroke-width="0.85"/><circle cx="117.9" cy="549.6" r="2.95" fill="#0000ff"/><path d="M115.5 565.0H120.3M117.9 562.6V567.4" stroke="#0000ff" stroke-width="1.25" fill="none"/><circle cx="232.8" cy="549.6" r="2.95" fill="#800080"/><path d="M230.4 565.0H235.2M232.8 562.6V567.4" stroke="#800080" stroke-width="1.25" fill="none"/><text x="135.2" y="551.5" font-size="9.77">high correct</text><text x="135.2" y="566.7" font-size="9.77">high incorrect</text><text x="250.9" y="551.5" font-size="9.77">low correct</text><text x="250.9" y="566.7" font-size="9.77">low incorrect</text>
</g>
<g id="p6">
<clipPath id="a6"><rect x="387.3" y="468.3" width="275.2" height="177.99999999999994"/></clipPath>
<g clip-path="url(#a6)">
<circle cx="627.9" cy="475.6" r="2.95" fill="#0000ff"/>
<circle cx="601.0" cy="486.1" r="2.95" fill="#0000ff"/>
<circle cx="618.1" cy="486.1" r="2.95" fill="#0000ff"/>
<circle cx="610.7" cy="488.4" r="2.95" fill="#0000ff"/>
<circle cx="610.5" cy="490.6" r="2.95" fill="#0000ff"/>
<circle cx="609.8" cy="496.2" r="2.95" fill="#0000ff"/>
<circle cx="593.4" cy="499.5" r="2.95" fill="#0000ff"/>
<circle cx="596.7" cy="497.2" r="2.95" fill="#0000ff"/>
<circle cx="599.3" cy="495.6" r="2.95" fill="#0000ff"/>
<circle cx="601.9" cy="493.6" r="2.95" fill="#0000ff"/>
<circle cx="602.6" cy="498.2" r="2.95" fill="#0000ff"/>
<circle cx="601.9" cy="500.6" r="2.95" fill="#0000ff"/>
<circle cx="619.0" cy="494.9" r="2.95" fill="#0000ff"/>
<circle cx="621.6" cy="493.0" r="2.95" fill="#0000ff"/>
<circle cx="624.3" cy="489.7" r="2.95" fill="#0000ff"/>
<circle cx="628.2" cy="489.3" r="2.95" fill="#0000ff"/>
<circle cx="631.5" cy="488.4" r="2.95" fill="#0000ff"/>
<circle cx="628.2" cy="492.3" r="2.95" fill="#0000ff"/>
<circle cx="650.2" cy="492.7" r="2.95" fill="#0000ff"/>
<circle cx="592.1" cy="515.0" r="2.95" fill="#0000ff"/>
<circle cx="591.1" cy="544.6" r="2.95" fill="#0000ff"/>
<path d="M585.7 584.7H590.5M588.1 582.3V587.1" stroke="#0000ff" stroke-width="1.25" fill="none"/>
<path d="M584.9 591.6H589.7M587.3 589.2V594.0" stroke="#0000ff" stroke-width="1.25" fill="none"/>
<path d="M549.8 612.2H554.6M552.2 609.8V614.6" stroke="#0000ff" stroke-width="1.25" fill="none"/>
<path d="M570.8 637.4H575.6M573.2 635.0V639.8" stroke="#0000ff" stroke-width="1.25" fill="none"/>
<path d="M503.1 599.5H507.9M505.5 597.1V601.9" stroke="#0000ff" stroke-width="1.25" fill="none"/>
<path d="M496.4 621.5H501.2M498.8 619.1V623.9" stroke="#0000ff" stroke-width="1.25" fill="none"/>
<circle cx="589.4" cy="571.5" r="2.95" fill="#800080"/>
<circle cx="575.5" cy="599.1" r="2.95" fill="#800080"/>
<circle cx="576.3" cy="606.1" r="2.95" fill="#800080"/>
<circle cx="586.0" cy="607.5" r="2.95" fill="#800080"/>
<circle cx="580.5" cy="610.1" r="2.95" fill="#800080"/>
<circle cx="585.1" cy="611.8" r="2.95" fill="#800080"/>
<circle cx="571.9" cy="611.1" r="2.95" fill="#800080"/>
<circle cx="564.7" cy="612.2" r="2.95" fill="#800080"/>
<circle cx="560.8" cy="614.4" r="2.95" fill="#800080"/>
<circle cx="568.6" cy="615.7" r="2.95" fill="#800080"/>
<circle cx="567.6" cy="617.7" r="2.95" fill="#800080"/>
<circle cx="580.5" cy="615.1" r="2.95" fill="#800080"/>
<circle cx="584.4" cy="617.7" r="2.95" fill="#800080"/>
<circle cx="581.8" cy="617.7" r="2.95" fill="#800080"/>
<circle cx="547.9" cy="612.2" r="2.95" fill="#800080"/>
<circle cx="553.5" cy="615.7" r="2.95" fill="#800080"/>
<circle cx="548.9" cy="620.3" r="2.95" fill="#800080"/>
<circle cx="559.7" cy="621.0" r="2.95" fill="#800080"/>
<circle cx="545.0" cy="615.7" r="2.95" fill="#800080"/>
<circle cx="574.6" cy="623.6" r="2.95" fill="#800080"/>
<circle cx="583.8" cy="626.2" r="2.95" fill="#800080"/>
<circle cx="584.4" cy="638.1" r="2.95" fill="#800080"/>
<circle cx="476.2" cy="599.5" r="2.95" fill="#800080"/>
<circle cx="496.5" cy="602.9" r="2.95" fill="#800080"/>
<circle cx="499.8" cy="598.5" r="2.95" fill="#800080"/>
<circle cx="506.4" cy="603.8" r="2.95" fill="#800080"/>
<circle cx="511.0" cy="603.8" r="2.95" fill="#800080"/>
<circle cx="511.6" cy="607.1" r="2.95" fill="#800080"/>
<circle cx="513.6" cy="611.0" r="2.95" fill="#800080"/>
<circle cx="518.6" cy="605.1" r="2.95" fill="#800080"/>
<circle cx="520.2" cy="609.7" r="2.95" fill="#800080"/>
<circle cx="519.5" cy="615.0" r="2.95" fill="#800080"/>
<circle cx="522.8" cy="618.9" r="2.95" fill="#800080"/>
<circle cx="525.4" cy="620.2" r="2.95" fill="#800080"/>
<circle cx="527.4" cy="611.0" r="2.95" fill="#800080"/>
<circle cx="530.7" cy="607.1" r="2.95" fill="#800080"/>
<circle cx="534.0" cy="609.1" r="2.95" fill="#800080"/>
<circle cx="530.7" cy="617.6" r="2.95" fill="#800080"/>
<circle cx="533.3" cy="619.6" r="2.95" fill="#800080"/>
<circle cx="540.5" cy="610.4" r="2.95" fill="#800080"/>
<circle cx="543.8" cy="613.0" r="2.95" fill="#800080"/>
<circle cx="542.5" cy="616.3" r="2.95" fill="#800080"/>
<circle cx="541.2" cy="620.2" r="2.95" fill="#800080"/>
<circle cx="520.4" cy="624.4" r="2.95" fill="#800080"/>
<circle cx="530.3" cy="624.4" r="2.95" fill="#800080"/>
<circle cx="544.5" cy="629.2" r="2.95" fill="#800080"/>
<circle cx="399.6" cy="579.1" r="2.95" fill="#800080"/>
<circle cx="535.4" cy="608.9" r="2.95" fill="#800080"/>
<rect x="539.5" y="602.2" width="2.4" height="7.2" rx="1" fill="#800080"/>
<rect x="568.4" y="601.0" width="2.4" height="7.2" rx="1" fill="#800080"/>
<path d="M598.2 478.2H603.0M600.6 475.8V480.6" stroke="#800080" stroke-width="1.25" fill="none"/>
<path d="M607.0 483.5H611.8M609.4 481.1V485.9" stroke="#800080" stroke-width="1.25" fill="none"/>
<path d="M587.3 494.0H592.1M589.7 491.6V496.4" stroke="#800080" stroke-width="1.25" fill="none"/>
<path d="M603.1 492.3H607.9M605.5 489.9V494.7" stroke="#800080" stroke-width="1.25" fill="none"/>
<path d="M590.3 500.6H595.1M592.7 498.2V503.0" stroke="#800080" stroke-width="1.25" fill="none"/>
<path d="M584.9 550.5H589.7M587.3 548.1V552.9" stroke="#800080" stroke-width="1.25" fill="none"/>
<path d="M588.1 552.8H592.9M590.5 550.4V555.2" stroke="#800080" stroke-width="1.25" fill="none"/>
<path d="M586.6 581.4H591.4M589.0 579.0V583.8" stroke="#800080" stroke-width="1.25" fill="none"/>
<path d="M583.6 598.5H588.4M586.0 596.1V600.9" stroke="#800080" stroke-width="1.25" fill="none"/>
<path d="M588.8 551.1L593.4 555.7M588.8 555.7L593.4 551.1" stroke="#ffd700" stroke-width="1.4" fill="none"/>
<path d="M586.7 579.1L591.3 583.7M586.7 583.7L591.3 579.1" stroke="#ffd700" stroke-width="1.4" fill="none"/>
<path d="M583.7 596.2L588.3 600.8M583.7 600.8L588.3 596.2" stroke="#ffd700" stroke-width="1.4" fill="none"/>
<path d="M581.5 621.3L586.1 625.9M581.5 625.9L586.1 621.3" stroke="#ffd700" stroke-width="1.4" fill="none"/>
<path d="M592.1 503.5L596.0 507.4L592.1 511.3L588.2 507.4Z" fill="#d2691e"/>
<path d="M387.3 561.3H662.5" stroke="#3f87bd" stroke-width="1.5" fill="none"/>
</g>
<rect x="387.3" y="468.3" width="275.2" height="177.99999999999994" fill="none" stroke="#000" stroke-width="0.95"/>
<path d="M392.1 646.3v3.1M450.6 646.3v3.1M509.0 646.3v3.1M567.5 646.3v3.1M625.9 646.3v3.1M387.3 486.7h-3.1M387.3 511.8h-3.1M387.3 537.0h-3.1M387.3 562.1h-3.1M387.3 587.3h-3.1M387.3 612.5h-3.1M387.3 637.6h-3.1" stroke="#000" stroke-width="0.75" fill="none"/>
<text x="392.1" y="660.5" text-anchor="middle" font-size="9.77">1.2</text>
<text x="450.6" y="660.5" text-anchor="middle" font-size="9.77">1.4</text>
<text x="509.0" y="660.5" text-anchor="middle" font-size="9.77">1.6</text>
<text x="567.5" y="660.5" text-anchor="middle" font-size="9.77">1.8</text>
<text x="625.9" y="660.5" text-anchor="middle" font-size="9.77">2.0</text>
<text x="380.7" y="490.6" text-anchor="end" font-size="9.77">0.15</text>
<text x="380.7" y="515.8" text-anchor="end" font-size="9.77">0.10</text>
<text x="380.7" y="540.9" text-anchor="end" font-size="9.77">0.05</text>
<text x="380.7" y="566.0" text-anchor="end" font-size="9.77">0.00</text>
<text x="380.7" y="591.2" text-anchor="end" font-size="9.77">−0.05</text>
<text x="380.7" y="616.4" text-anchor="end" font-size="9.77">−0.10</text>
<text x="380.7" y="641.5" text-anchor="end" font-size="9.77">−0.15</text>
<text x="524.9" y="462.7" text-anchor="middle" font-size="11.78">Dependence count entropyngldmFeatures2Dmrg</text>
<clipPath id="y6"><rect x="342.5" y="468.3" width="4.0" height="177.99999999999994"/></clipPath><g clip-path="url(#y6)">
<text transform="translate(345.6,558.0) rotate(-90)" text-anchor="middle" font-size="9.77">SHAP value</text>
</g>
<text x="523.9" y="674.1" text-anchor="middle" font-size="9.9">log(feature value)</text>
<rect x="370.5" y="622.8" width="308.2" height="17.8" rx="1.9" fill="#fff" fill-opacity="0.8" stroke="#ccc" stroke-width="0.85"/><path d="M382.2 630.1L386.8 634.7M382.2 634.7L386.8 630.1" stroke="#ffd700" stroke-width="1.4" fill="none"/><path d="M548.9 628.5L552.8 632.4L548.9 636.3L545.0 632.4Z" fill="#d2691e"/><text x="402.5" y="634.5" font-size="9.77">dec change to incorrect</text><text x="566.5" y="634.5" font-size="9.77">dec change to correct</text>
</g>
</svg>
</body></html>
